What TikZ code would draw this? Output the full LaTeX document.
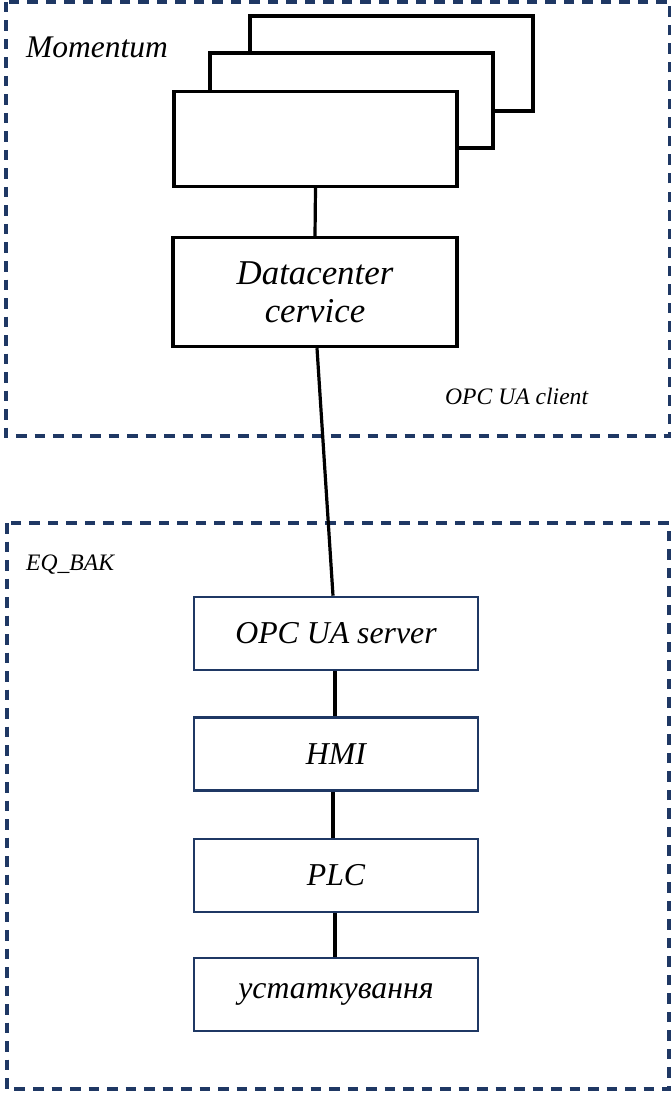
\documentclass[tikz,border=0pt]{standalone}
\usepackage{fontspec}
\setmainfont{Liberation Serif}
\definecolor{navy}{RGB}{31,56,100}
\begin{document}
\begin{tikzpicture}[x=1pt,y=-1pt,
  grp/.style={draw=navy,line width=3.3pt,dash pattern=on 10.5pt off 8pt},
  card/.style={draw=black,fill=white,line width=3.4pt,minimum width=283pt,minimum height=95pt,inner sep=0pt},
  unit/.style={draw=navy,fill=white,line width=2.6pt,minimum width=284pt,minimum height=73pt,inner sep=0pt,
    font=\fontsize{31.8}{36}\selectfont\itshape},
  link/.style={draw=black,line width=3.2pt},
  big/.style={font=\fontsize{31.5}{36}\selectfont\itshape},
  small/.style={font=\fontsize{23.6}{27}\selectfont\itshape}]
\useasboundingbox (0,0) rectangle (671,1099);

% group frames
\draw[grp] (6,2) rectangle (670,436);
\draw[grp] (7,523) rectangle (669,1089);

% group captions
\node[big,anchor=base west,inner sep=0pt] (mom) at (26,58) {Momentum};
\node[small,anchor=base west,inner sep=0pt] (cli) at (445,404) {OPC UA client};
\node[small,anchor=base west,inner sep=0pt] (eq) at (26,570) {EQ\_BAK};

% stacked client cards
\node[card] (back) at (391.5,63.5) {};
\node[card] (mid) at (351.5,100.5) {};
\node[card] (front) at (315.5,139) {};

% datacenter service
\node[card,minimum width=284pt,minimum height=109pt,align=center,
  font=\fontsize{34.8}{38}\selectfont\itshape] (dc) at (315,292) {Datacenter\\cervice};

% equipment chain
\node[unit] (opc) at (336,633.5) {OPC UA server};
\node[unit] (hmi) at (336,754) {HMI};
\node[unit] (plc) at (336,875.5) {PLC};
\node[unit] (ust) at (336,994.5) {устаткування};

% links
\draw[link] (front.south) -- (dc.north);
\draw[link] ([xshift=2pt]dc.south) -- ([xshift=-3pt]opc.north);
\draw[link] ([xshift=-1pt]opc.south) -- ([xshift=-1pt]hmi.north);
\draw[link] ([xshift=-3pt]hmi.south) -- ([xshift=-3pt]plc.north);
\draw[link] ([xshift=-1pt]plc.south) -- ([xshift=-1pt]ust.north);
\end{tikzpicture}
\end{document}
